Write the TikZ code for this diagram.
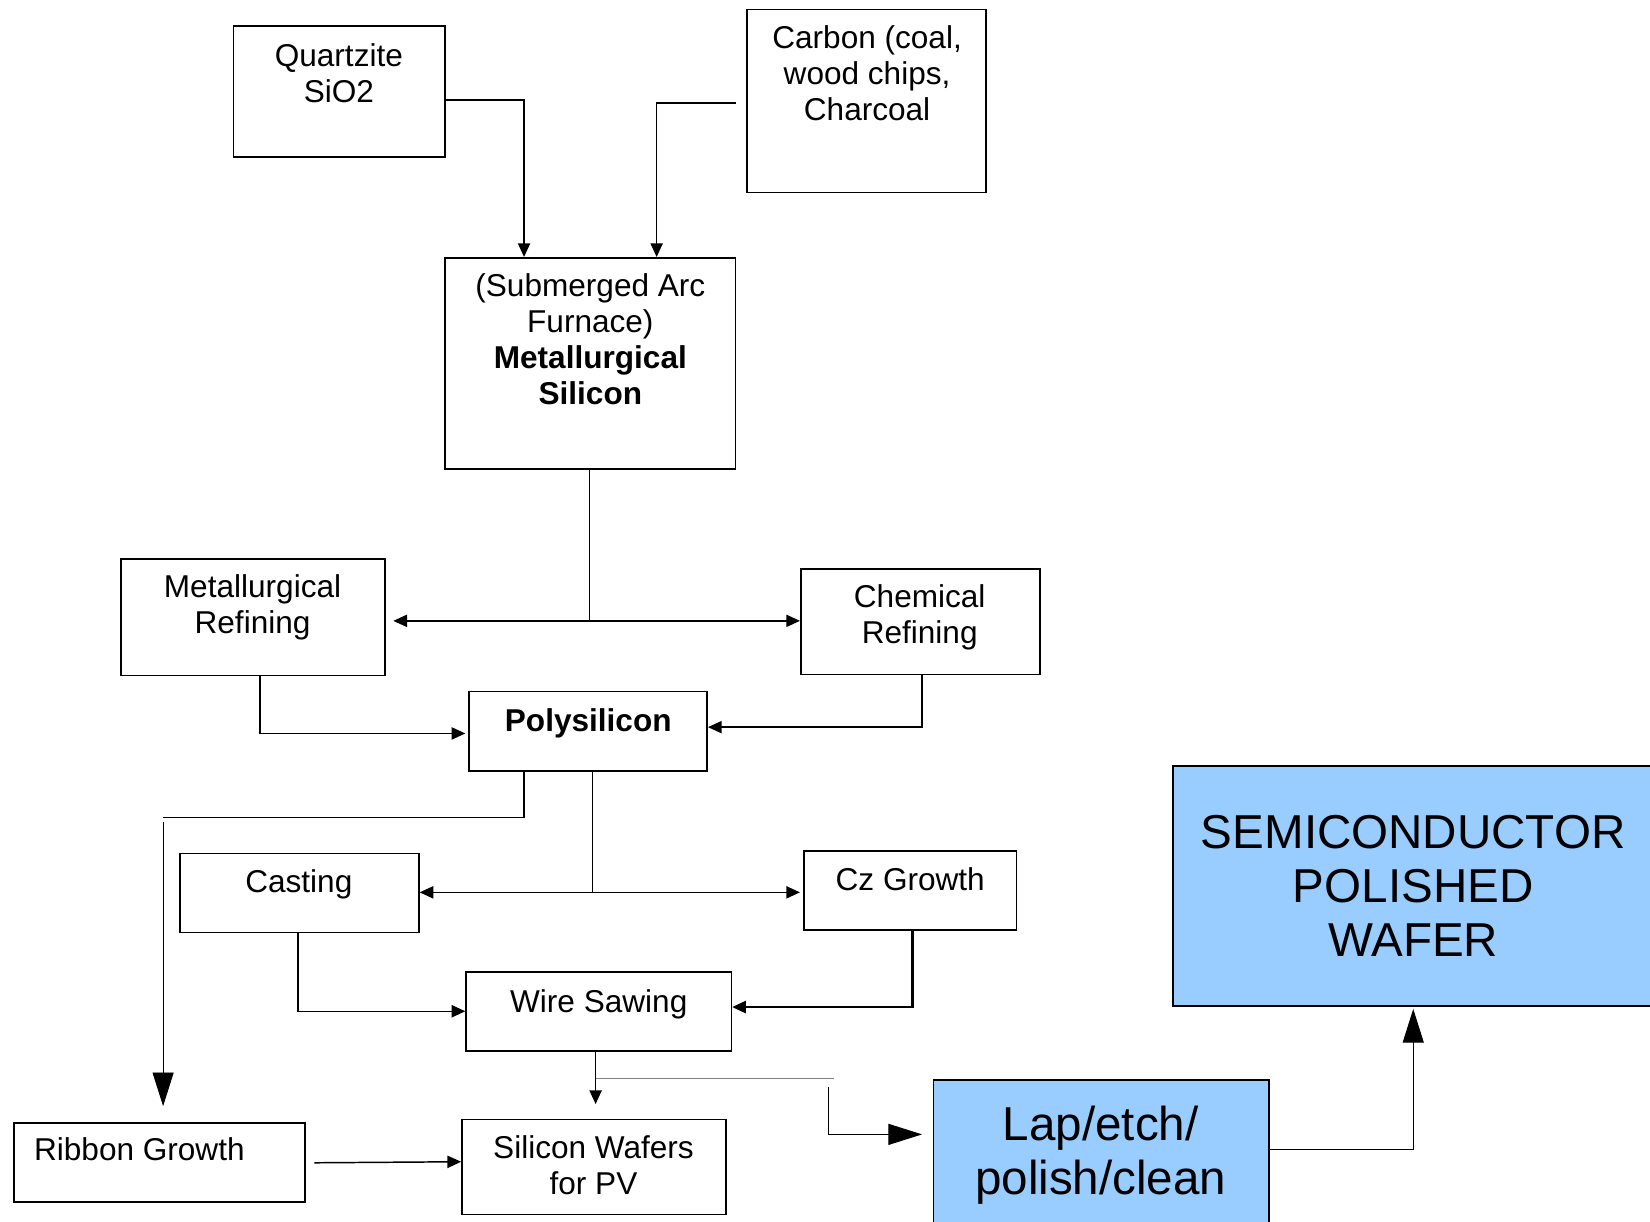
\documentclass[tikz,border=0pt]{standalone}
\usepackage{fontspec}
\setmainfont{Liberation Sans}
\usetikzlibrary{arrows.meta,calc,fit}
\definecolor{lblue}{HTML}{99CCFF}
\begin{document}
\begin{tikzpicture}[x=0.5pt,y=-0.5pt,
 box/.style={draw, line width=0.8pt, inner sep=0pt},
 fbox/.style={box, fill=lblue},
 txt/.style={inner sep=0pt, align=center, font=\fontsize{15pt}{17pt}\selectfont},
 big/.style={inner sep=0pt, align=center, font=\fontsize{22.6pt}{25.7pt}\selectfont},
 conn/.style={line width=0.7pt},
 arr/.style={conn, -{Triangle[length=6.5pt,width=5.8pt]}},
 thinline/.style={line width=0.45pt},
 bigarr/.style={thinline, -{Triangle[length=16pt,width=10pt]}},
]
\useasboundingbox (0,0) rectangle (1568,1161);

% boxes
\node[box, fit={(222,25)(423,149)}] (q) {};
\node[box, fit={(710,9)(937,183)}] (c) {};
\node[box, fit={(423,245)(699,446)}] (ms) {};
\node[box, fit={(115,531)(366,642)}] (mr) {};
\node[box, fit={(761,541)(988,641)}] (cr) {};
\node[box, fit={(446,657)(672,733)}] (poly) {};
\node[box, fit={(171,811)(398,886)}] (cast) {};
\node[box, fit={(764,809)(966,884)}] (cz) {};
\node[box, fit={(443,924)(695,999)}] (ws) {};
\node[box, fit={(13,1067)(290,1142)}] (rg) {};
\node[box, fit={(439,1064)(690,1154)}] (siw) {};
\node[fbox, fit={(887,1026)(1206,1175)}] (lap) {};
\node[fbox, fit={(1115,728)(1580,956)}] (semi) {};

% texts
\node[txt, anchor=north] (tq) at (322,41) {Quartzite\\SiO2};
\node[txt, anchor=north] (tc) at (824,24) {Carbon (coal,\\wood chips,\\Charcoal};
\node[txt, anchor=north] (tms) at (561,260) {(Submerged Arc\\Furnace)\\\textbf{Metallurgical}\\\textbf{Silicon}};
\node[txt, anchor=north] (tmr) at (240,546) {Metallurgical\\Refining};
\node[txt, anchor=north] (tcr) at (874,555) {Chemical\\Refining};
\node[txt, anchor=north] (tpoly) at (559,673) {\textbf{Polysilicon}};
\node[txt, anchor=north] (tcast) at (284,826) {Casting};
\node[txt, anchor=north] (tcz) at (865,824) {Cz Growth};
\node[txt, anchor=north] (tws) at (569,940) {Wire Sawing};
\node[txt, anchor=north west] (trg) at (32,1081) {Ribbon Growth};
\node[txt, anchor=north] (tsiw) at (564,1079) {Silicon Wafers\\for PV};
\node[big, anchor=north] (tlap) at (1046,1051) {Lap/etch/\\polish/clean};
\node[big, anchor=north] (tsemi) at (1343,774) {SEMICONDUCTOR\\POLISHED\\WAFER};

% connectors
\draw[arr] (q.east |- 0,95) -| (ms.north -| 498,0);
\coordinate (cs) at (699,98);
\draw[arr] (cs) -| (ms.north -| 624,0);

\draw[conn] (ms.south -| 560,0) -- (560,590) coordinate (j1);
\draw[arr] (j1) -- ($(mr.east |- j1)+(7,0)$);
\draw[arr] (j1) -- (cr.west |- j1);

\draw[arr] (mr.south -| 247,0) |- ($(poly.west |- 0,697)+(-3,0)$);
\draw[arr] (cr.south -| 876,0) |- (poly.east |- 0,691);

\draw[conn] (poly.south -| 498,0) |- (155,777);
\draw[bigarr] (155,781) -- ($(rg.north -| 155,0)+(0,-15)$);

\draw[conn] (poly.south -| 563,0) -- (563,848) coordinate (j2);
\draw[arr] (j2) -- (cast.east |- j2);
\draw[arr] (j2) -- ($(cz.west |- j2)+(-3,0)$);

\draw[arr] (cast.south -| 283,0) |- (ws.west |- 0,961);
\draw[arr, line width=1.1pt] (cz.south -| 867,0) |- (ws.east |- 0,957);

\draw[arr] (ws.south -| 566,0) -- ($(siw.north -| 566,0)+(0,-14)$);
\coordinate (j3) at (566,1025);
\draw[thinline, gray] (j3) -- (793,1025);
\draw[bigarr] (787,1033) |- ($(lap.west |- 0,1078)+(-10,0)$);

\draw[arr] ($(rg.east |- 0,1105)+(8,0)$) -- (siw.west |- 0,1104);
\draw[bigarr] (lap.east |- 0,1092) -| ($(semi.south -| 1343,0)+(0,2)$);
\end{tikzpicture}
\end{document}
